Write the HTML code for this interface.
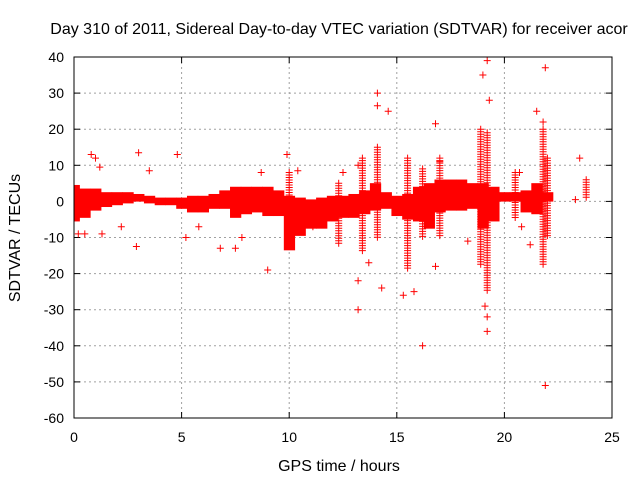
<!DOCTYPE html>
<html><head><meta charset="utf-8"><style>
body{margin:0;background:#fff}
svg{display:block;font-family:"Liberation Sans",sans-serif}
</style></head><body>
<svg id="chart" width="640" height="480">
<text x="339" y="34" font-size="16" text-anchor="middle">Day 310 of 2011, Sidereal Day-to-day VTEC variation (SDTVAR) for receiver acor</text>
<text x="339" y="471" font-size="16" text-anchor="middle">GPS time / hours</text>
<text transform="translate(20,238) rotate(-90)" font-size="16" text-anchor="middle">SDTVAR / TECUs</text>
<g id="grid"></g>
<g id="ticks"></g>
<g id="marks"></g>
<rect x="74" y="57" width="538" height="361" fill="none" stroke="#000"/>
</svg>
<script>
const xTicks=[0,5,10,15,20,25];
const yTicks=[40,30,20,10,0,-10,-20,-30,-40,-50,-60];
// envelope of the dense band: time, upper, lower
const bandT=[0,0.5,1,1.5,2,2.5,3,3.5,4,4.5,5,5.5,6,6.5,7,7.5,8,8.5,9,9.5,10,10.5,11,11.5,12,12.5,13,13.5,14,14.5,15,15.5,16,16.5,17,17.5,18,18.5,19,19.5,20,20.5,21,21.5,22];
const bandHi=[4,3,3,2,2,2,1.5,1,0.5,0.5,0.5,1,1,1.5,2.5,3.5,3.5,3.5,3.5,2.5,1,0.5,0,0.5,1,1,1.5,2.5,4.5,2,1,1.5,3.5,4.5,5.5,5.5,5.5,4.5,4.5,3.5,2,2,2.5,4.5,2];
const bandLo=[-5,-4,-2,-1,-0.5,0,0.5,0,-0.5,-0.5,-1.5,-2.5,-2.5,-1.5,-1.5,-4,-3,-2.5,-3.5,-3.5,-13,-9,-7,-7,-5,-4,-4,-3,-2,-1.5,-3.5,-4.5,-5,-7,-2.5,-2,-2,-1.5,-7,-5,0.5,0.5,-2.5,-3,0.5];
// vertical spikes: time, top, bottom
const spikeT=[14.1,15.5,16.2,17.0,18.9,19.2,21.8,22.0,20.5,13.4,12.3,10.0,23.8];
const spikeTop=[15,12,9,12,20,19,20,12,8,12,5,8,6];
const spikeBot=[-10,-19,-10,-10,-18,-25,-18,-10,-5,-14,-12,-8,1];
// isolated outliers
const outT=[0.8,1.0,1.2,3.0,2.9,4.8,3.5,5.2,9.0,6.8,7.5,8.7,9.9,10.4,13.2,13.2,13.2,13.7,14.1,14.1,14.3,14.6,15.3,15.8,16.2,16.8,16.8,17.0,15.5,19.0,19.2,19.3,19.2,19.2,19.1,21.5,21.9,21.9,21.8,23.5,23.3,11.1,12.5,2.2,0.2,0.5,1.3,5.8,7.8,18.3,20.8,21.2,20.7];
const outV=[13,12,9.5,13.5,-12.5,13,8.5,-10,-19,-13,-13,8,13,8.5,-22,-30,10,-17,30,26.5,-24,25,-26,-25,-40,21.5,-18,11,12,35,39,28,-32,-36,-29,25,37,-51,22,12,0.5,-7,8,-7,-9,-9,-9,-7,-10,-11,-7,-12,8];

const X=t=>74+t*(538/25), Y=v=>57+(40-v)*(361/100);
const NS="http://www.w3.org/2000/svg";
const grid=document.getElementById('grid'),ticks=document.getElementById('ticks'),marks=document.getElementById('marks');
function mk(tag,attrs,parent){const e=document.createElementNS(NS,tag);for(const k in attrs)e.setAttribute(k,attrs[k]);parent.appendChild(e);return e;}
xTicks.forEach(t=>{const x=X(t);
 if(t>0&&t<25){const l=mk('line',{x1:x,x2:x,y1:57,y2:418,stroke:'#a0a0a0','stroke-dasharray':'2,3'},grid);}
 mk('line',{x1:x,x2:x,y1:418,y2:412,stroke:'#000'},grid);mk('line',{x1:x,x2:x,y1:57,y2:63,stroke:'#000'},grid);
 const tx=mk('text',{x:x,y:442,'font-size':14,'text-anchor':'middle'},ticks);tx.textContent=t;
 });
yTicks.forEach(v=>{const y=Y(v);
 if(v<40&&v>-60){const l=mk('line',{x1:74,x2:612,y1:y,y2:y,stroke:'#a0a0a0','stroke-dasharray':'2,3'},grid);}
 mk('line',{x1:74,x2:80,y1:y,y2:y,stroke:'#000'},grid);mk('line',{x1:612,x2:606,y1:y,y2:y,stroke:'#000'},grid);
 const tx=mk('text',{x:64,y:y+5,'font-size':14,'text-anchor':'end'},ticks);tx.textContent=v;
 });
// solid band blocks
bandT.forEach((t,i)=>{const x0=Math.max(X(t-0.25),74.5),x1=X(t+0.25);
 const r=mk('rect',{x:x0,y:Y(bandHi[i])-2,width:x1-x0+0.5,height:Y(bandLo[i])-Y(bandHi[i])+4,fill:'#ff0000'},marks);
 
 });
let d='';
function plus(x,y){d+=`M${(x-3.5).toFixed(1)} ${y.toFixed(1)}h7M${x.toFixed(1)} ${(y-3.5).toFixed(1)}v7`;}
spikeT.forEach((t,i)=>{for(let y=Y(spikeTop[i]);y<=Y(spikeBot[i]);y+=2.5)plus(X(t),y);});
outT.forEach((t,i)=>plus(X(t),Y(outV[i])));
const p=mk('path',{d:d,stroke:'#ff0000','stroke-width':1,fill:'none'},marks);


</script>
</body></html>
